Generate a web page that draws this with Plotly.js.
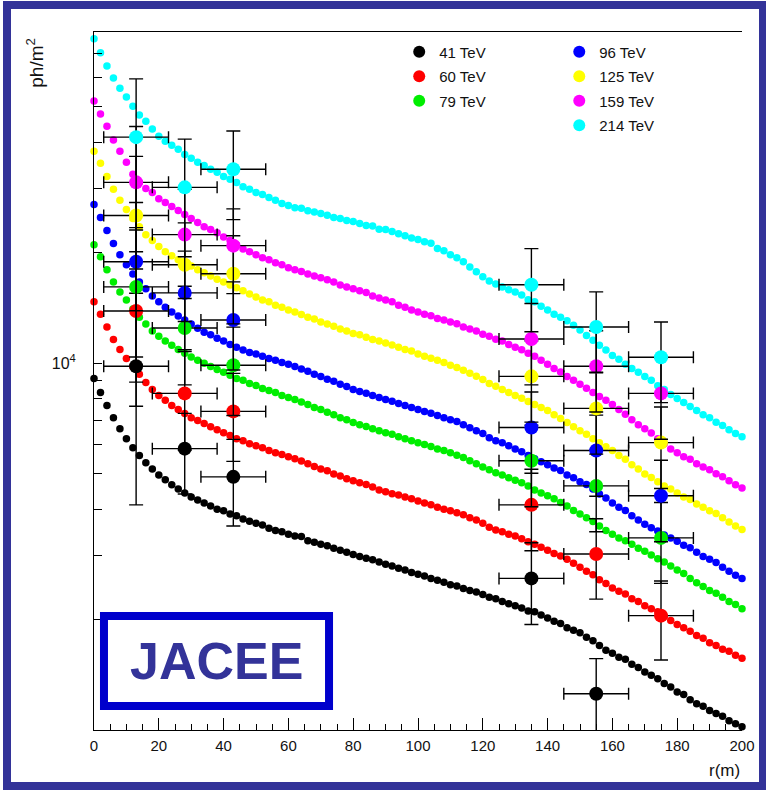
<!DOCTYPE html>
<html>
<head>
<meta charset="utf-8">
<script src="https://cdn.plot.ly/plotly-3.0.1.min.js"></script>
<style>
  html, body { margin: 0; padding: 0; background: #ffffff; }
  #wrap { position: relative; width: 766px; height: 790px; overflow: hidden; }
  #chart { position: absolute; left: 0; top: 0; width: 766px; height: 790px; }
  #frame {
    position: absolute; left: 3px; top: 1px; width: 748px; height: 773px;
    border: 8px solid #333399; pointer-events: none;
  }
</style>
</head>
<body>
<div id="wrap">
  <div id="chart"></div>
  <div id="frame"></div>
</div>
<script>
// Lateral distance from the shower core, r (m): simulated profile bins
const radius = [
  0, 2, 4, 6, 8, 10, 12, 14, 16, 18,
  20, 22, 24, 26, 28, 30, 32, 34, 36, 38,
  40, 42, 44, 46, 48, 50, 52, 54, 56, 58,
  60, 62, 64, 66, 68, 70, 72, 74, 76, 78,
  80, 82, 84, 86, 88, 90, 92, 94, 96, 98,
  100, 102, 104, 106, 108, 110, 112, 114, 116, 118,
  120, 122, 124, 126, 128, 130, 132, 134, 136, 138,
  140, 142, 144, 146, 148, 150, 152, 154, 156, 158,
  160, 162, 164, 166, 168, 170, 172, 174, 176, 178,
  180, 182, 184, 186, 188, 190, 192, 194, 196, 198,
  200
];

// Simulated Cherenkov photon density (ph/m^2) for each primary energy
const sim41 = [
  9090, 8320, 7670, 7100, 6630, 6220, 5880, 5600, 5350, 5150,
  4960, 4810, 4660, 4540, 4430, 4320, 4240, 4160, 4080, 4000,
  3960, 3880, 3840, 3760, 3710, 3660, 3620, 3550, 3500, 3470,
  3420, 3380, 3370, 3280, 3250, 3210, 3180, 3130, 3090, 3050,
  3010, 2970, 2940, 2910, 2870, 2830, 2800, 2760, 2730, 2690,
  2660, 2630, 2590, 2560, 2530, 2490, 2470, 2430, 2400, 2380,
  2340, 2300, 2280, 2240, 2210, 2180, 2150, 2110, 2100, 2060,
  2020, 1980, 1950, 1900, 1870, 1840, 1790, 1750, 1700, 1650,
  1620, 1580, 1560, 1510, 1480, 1440, 1410, 1380, 1340, 1310,
  1270, 1250, 1210, 1180, 1160, 1130, 1110, 1090, 1060, 1040,
  1020
];
const sim60 = [
  14700, 13600, 12550, 11600, 10900, 10300, 9800, 9330, 8860, 8480,
  8170, 7920, 7670, 7480, 7290, 7100, 6980, 6850, 6710, 6590,
  6460, 6350, 6220, 6150, 6030, 5960, 5880, 5780, 5700, 5640,
  5560, 5490, 5410, 5320, 5230, 5150, 5090, 4990, 4930, 4840,
  4780, 4720, 4670, 4600, 4510, 4460, 4410, 4370, 4320, 4270,
  4210, 4160, 4110, 4050, 4000, 3960, 3910, 3860, 3790, 3740,
  3660, 3570, 3510, 3470, 3420, 3380, 3320, 3260, 3210, 3150,
  3090, 3030, 2980, 2920, 2850, 2780, 2710, 2650, 2570, 2510,
  2440, 2390, 2350, 2280, 2240, 2180, 2140, 2100, 2040, 1990,
  1940, 1900, 1860, 1810, 1780, 1730, 1700, 1660, 1640, 1600,
  1570
];
const sim79 = [
  21050, 19500, 17980, 16650, 15650, 14880, 14050, 13350, 12800, 12250,
  11850, 11500, 11200, 10900, 10650, 10400, 10190, 10000, 9800, 9620,
  9450, 9270, 9090, 8980, 8810, 8700, 8530, 8430, 8320, 8170,
  8060, 7960, 7840, 7720, 7570, 7480, 7350, 7240, 7100, 7010,
  6890, 6800, 6720, 6630, 6550, 6460, 6400, 6300, 6220, 6150,
  6070, 6000, 5930, 5840, 5780, 5700, 5610, 5530, 5420, 5320,
  5210, 5120, 5030, 4960, 4870, 4800, 4720, 4630, 4510, 4430,
  4350, 4270, 4170, 4080, 3970, 3880, 3790, 3700, 3600, 3500,
  3420, 3340, 3280, 3210, 3130, 3070, 3000, 2930, 2870, 2800,
  2730, 2670, 2590, 2520, 2460, 2400, 2360, 2300, 2240, 2200,
  2140
];
const sim96 = [
  27100, 24950, 23000, 21200, 19750, 18550, 17500, 16650, 15950, 15250,
  14700, 14200, 13800, 13450, 13120, 12800, 12450, 12150, 11950, 11700,
  11500, 11250, 11050, 10860, 10700, 10600, 10450, 10300, 10190, 10050,
  9940, 9800, 9640, 9510, 9330, 9200, 9050, 8930, 8760, 8640,
  8480, 8380, 8280, 8170, 8060, 7960, 7880, 7770, 7670, 7570,
  7480, 7390, 7300, 7200, 7100, 7010, 6940, 6800, 6670, 6550,
  6430, 6260, 6150, 6070, 5960, 5840, 5740, 5600, 5490, 5390,
  5290, 5180, 5100, 4960, 4870, 4750, 4670, 4540, 4400, 4290,
  4160, 4050, 3970, 3840, 3740, 3640, 3560, 3490, 3400, 3340,
  3270, 3190, 3140, 3050, 2970, 2920, 2860, 2780, 2710, 2640,
  2590
];
const sim125 = [
  37850, 35100, 32300, 29790, 27800, 26260, 24800, 23550, 22400, 21600,
  20800, 20150, 19650, 19150, 18800, 18400, 17980, 17650, 17300, 16950,
  16650, 16350, 16050, 15750, 15450, 15150, 14880, 14700, 14400, 14200,
  13970, 13800, 13580, 13350, 13200, 12950, 12800, 12620, 12400, 12250,
  12050, 11950, 11770, 11600, 11500, 11350, 11220, 11050, 10900, 10800,
  10600, 10450, 10320, 10190, 10050, 9880, 9740, 9570, 9390, 9210,
  9030, 8810, 8650, 8480, 8320, 8170, 8020, 7870, 7720, 7570,
  7430, 7240, 7070, 6890, 6710, 6550, 6400, 6220, 6070, 5920,
  5780, 5600, 5470, 5290, 5150, 4990, 4880, 4750, 4630, 4540,
  4430, 4320, 4250, 4130, 4050, 3960, 3890, 3790, 3690, 3600,
  3520
];
const sim159 = [
  51900, 47800, 44300, 40600, 37850, 35300, 32750, 31100, 29950, 29200,
  28100, 27450, 26750, 26100, 25450, 24800, 24200, 23550, 23140, 22700,
  22100, 21600, 21050, 20500, 20150, 19750, 19400, 19150, 18800, 18550,
  18200, 17980, 17780, 17500, 17300, 17100, 16900, 16650, 16350, 16150,
  15950, 15750, 15580, 15250, 15050, 14880, 14720, 14400, 14200, 13970,
  13800, 13600, 13470, 13250, 13120, 12950, 12820, 12550, 12400, 12250,
  12000, 11850, 11620, 11500, 11250, 11050, 10880, 10650, 10450, 10190,
  9940, 9680, 9470, 9200, 8980, 8760, 8550, 8320, 8110, 7920,
  7720, 7480, 7260, 7010, 6800, 6630, 6450, 6220, 6030, 5840,
  5700, 5560, 5470, 5320, 5210, 5120, 5000, 4900, 4780, 4660,
  4570
];
const sim214 = [
  76700, 70200, 64600, 59900, 56200, 53200, 50200, 47500, 45700, 43490,
  41600, 40300, 39300, 38340, 37100, 36200, 35300, 34600, 33790, 33150,
  32300, 31720, 31100, 30300, 29790, 29200, 28850, 28300, 27800, 27250,
  26900, 26550, 26450, 26050, 25850, 25600, 25300, 24950, 24800, 24500,
  24350, 24050, 23750, 23650, 23200, 23140, 22850, 22550, 22250, 21950,
  21730, 21450, 21250, 20550, 20250, 19750, 19400, 18900, 18300, 17750,
  17200, 16750, 16450, 16150, 15850, 15650, 15350, 14900, 14700, 14300,
  13970, 13600, 13350, 13050, 12700, 12310, 11900, 11560, 11200, 10860,
  10500, 10250, 9940, 9680, 9450, 9200, 8980, 8680, 8480, 8220,
  8010, 7820, 7620, 7430, 7240, 7100, 6900, 6760, 6590, 6430,
  6300
];

// JACEE measurements: radius, density and error for each energy
const obsR = [13, 28, 43, 135, 155, 175];
const obs41 = [9810, 5850, 4900, 2590, 1255, null];
const err41 = [5700, 1450, 1300, 650, 310, null];
const obs60 = [13880, 8275, 7390, 4110, 3020, 2050];
const err60 = [6250, 2480, 1990, 1030, 746, 498];
const obs79 = [16150, 12470, 9875, 5420, 4630, 3340];
const err79 = [7270, 3740, 2670, 1360, 1160, 830];
const obs96 = [18910, 15550, 13120, 6680, 5780, 4350];
const err96 = [8510, 4670, 3540, 1670, 1440, 1090];
const obs125 = [25270, 18560, 17530, 9210, 7530, 6075];
const err125 = [11370, 5570, 4730, 2300, 1880, 1520];
const obs159 = [31130, 22420, 20920, 11640, 9810, 8275];
const err159 = [13070, 7400, 5440, 2910, 2450, 2070];
const obs214 = [41340, 30170, 33790, 16360, 12550, 10380];
const err214 = [18260, 10660, 9160, 4170, 3100, 2570];

const energyLabels = ['41 TeV', '60 TeV', '79 TeV', '96 TeV', '125 TeV', '159 TeV', '214 TeV'];
const seriesColors = ['#000000', '#ff0000', '#00ee00', '#0000ff', '#ffff00', '#ff00ff', '#00ffff'];

// Logarithmic y ticks: one labelled decade mark plus the 2..9 sub-decade marks
const yMajorVals = [10000];
const yMajorText = ['10<sup>4</sup>'];
const yMinorVals = [2000, 3000, 4000, 5000, 6000, 7000, 8000, 9000,
                    20000, 30000, 40000, 50000, 60000, 70000, 80000];

const simSets = [sim41, sim60, sim79, sim96, sim125, sim159, sim214];
const obsSets = [obs41, obs60, obs79, obs96, obs125, obs159, obs214];
const errSets = [err41, err60, err79, err96, err125, err159, err214];

const traces = [];
simSets.forEach((ys, i) => {
  traces.push({
    type: 'scatter', mode: 'markers',
    x: radius, y: ys,
    name: energyLabels[i],
    legendgroup: 'g' + i,
    legend: i < 3 ? 'legend' : 'legend2',
    marker: { color: seriesColors[i], size: 7.5, line: { width: 0 } },
    cliponaxis: false,
    hoverinfo: 'x+y+name'
  });
});
obsSets.forEach((ys, i) => {
  traces.push({
    type: 'scatter', mode: 'markers',
    x: obsR, y: ys,
    name: energyLabels[i],
    legendgroup: 'g' + i,
    showlegend: false,
    marker: { color: seriesColors[i], size: 14, line: { width: 0 } },
    error_x: { type: 'constant', value: 10, color: '#000000', thickness: 1.4, width: 6 },
    error_y: { type: 'data', array: errSets[i], color: '#000000', thickness: 1.4, width: 7 },
    hoverinfo: 'x+y+name'
  });
});

const baseFont = 'Liberation Sans, Arial, Helvetica, sans-serif';
const legendCommon = {
  yanchor: 'top', xanchor: 'left',
  bgcolor: 'rgba(255,255,255,0)', borderwidth: 0,
  font: { family: baseFont, size: 15, color: '#111111' },
  itemsizing: 'constant', tracegroupgap: 2, orientation: 'v'
};

const layout = {
  width: 766, height: 790,
  margin: { l: 94, r: 24, t: 32, b: 60, pad: 0 },
  paper_bgcolor: '#ffffff', plot_bgcolor: '#ffffff',
  font: { family: baseFont, color: '#111111' },
  showlegend: true,
  legend: Object.assign({ x: 0.471, y: 0.995 }, legendCommon),
  legend2: Object.assign({ x: 0.718, y: 0.995 }, legendCommon),
  xaxis: {
    range: [0, 200], dtick: 20, tick0: 0,
    ticks: 'inside', ticklen: 12, tickwidth: 1, tickcolor: '#000000',
    minor: { dtick: 5, ticks: 'inside', ticklen: 6, tickwidth: 1, tickcolor: '#000000' },
    showline: true, linecolor: '#000000', linewidth: 1, mirror: true,
    showgrid: false, zeroline: false,
    tickfont: { family: baseFont, size: 15, color: '#111111' },
    ticklabelstandoff: 2
  },
  yaxis: {
    type: 'log', range: [3, Math.log10(80000)],
    tickmode: 'array', tickvals: yMajorVals, ticktext: yMajorText,
    ticks: 'inside', ticklen: 8, tickwidth: 1, tickcolor: '#000000',
    minor: { tickmode: 'array', tickvals: yMinorVals, ticks: 'inside', ticklen: 8, tickwidth: 1, tickcolor: '#000000' },
    showline: true, linecolor: '#000000', linewidth: 1, mirror: false,
    showgrid: false, zeroline: false,
    tickfont: { family: baseFont, size: 16, color: '#111111' },
    ticklabelstandoff: 14
  },
  shapes: [{
    type: 'rect', xref: 'paper', yref: 'paper',
    x0: 0.0154, x1: 0.3627, y0: 0.0344, y1: 0.1633,
    line: { color: '#0000cc', width: 8 }, fillcolor: '#ffffff', layer: 'above'
  }],
  annotations: [
    {
      text: '<b>JACEE</b>', xref: 'paper', yref: 'paper', x: 0.189, y: 0.0985,
      xanchor: 'center', yanchor: 'middle', showarrow: false,
      font: { family: baseFont, size: 52, color: '#333399' }
    },
    {
      text: 'r(m)', xref: 'paper', yref: 'paper', x: 1.0, y: -0.058,
      xanchor: 'right', yanchor: 'middle', showarrow: false,
      font: { family: baseFont, size: 17, color: '#111111' }
    },
    {
      text: 'ph/m<sup>2</sup>', xref: 'paper', yref: 'paper', x: -0.091, y: 0.956,
      xanchor: 'center', yanchor: 'middle', textangle: -90, showarrow: false,
      font: { family: baseFont, size: 19, color: '#111111' }
    }
  ]
};

Plotly.newPlot('chart', traces, layout, { displayModeBar: false, staticPlot: true });
</script>
</body>
</html>
